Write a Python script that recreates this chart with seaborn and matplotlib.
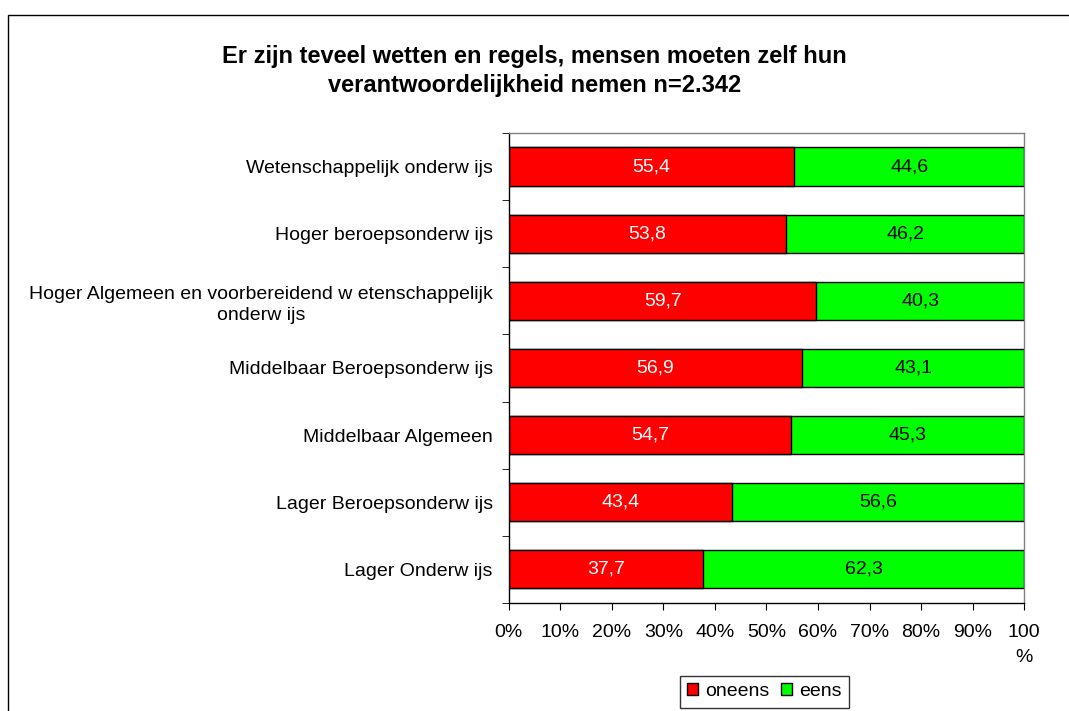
import numpy as np
import pandas as pd
import seaborn as sns
import matplotlib.pyplot as plt
from matplotlib.patches import Rectangle, Patch

categories = ["Wetenschappelijk onderw ijs",
              "Hoger beroepsonderw ijs",
              "Hoger Algemeen en voorbereidend w etenschappelijk\nonderw ijs",
              "Middelbaar Beroepsonderw ijs",
              "Middelbaar Algemeen",
              "Lager Beroepsonderw ijs",
              "Lager Onderw ijs"]
oneens = [55.4, 53.8, 59.7, 56.9, 54.7, 43.4, 37.7]
eens = [44.6, 46.2, 40.3, 43.1, 45.3, 56.6, 62.3]

df = pd.DataFrame({"cat": categories, "oneens": oneens, "eens": eens})
df["total"] = df["oneens"] + df["eens"]

sns.set_style("white")
plt.rcParams["font.family"] = ["Liberation Sans", "DejaVu Sans"]
plt.rcParams["text.color"] = "black"
plt.rcParams["xtick.color"] = "black"
plt.rcParams["ytick.color"] = "black"

fs = 14
fig = plt.figure(figsize=(10.69, 7.11), dpi=100)
ax = fig.add_axes([0.476, 0.152, 0.482, 0.661])

red = "#ff0000"
green = "#00ff00"
sns.barplot(data=df, x="total", y="cat", orient="h", color=green, saturation=1,
            edgecolor="black", linewidth=1, width=0.57, ax=ax)
sns.barplot(data=df, x="oneens", y="cat", orient="h", color=red, saturation=1,
            edgecolor="black", linewidth=1, width=0.57, ax=ax)

for i, (o, e) in enumerate(zip(oneens, eens)):
    ax.text(o / 2, i, f"{o:.1f}".replace(".", ","), ha="center", va="center",
            color="white", fontsize=fs)
    ax.text(o + e / 2, i, f"{e:.1f}".replace(".", ","), ha="center", va="center",
            color="black", fontsize=fs)

ax.set_xlim(0, 100)
ax.set_ylim(len(categories) - 0.5, -0.5)
ax.set_xticks(np.arange(0, 101, 10))
ax.set_xticklabels([f"{v}%" for v in range(0, 100, 10)] + ["100\n%"], fontsize=fs)
ax.set_yticks(range(len(categories)))
ax.set_yticklabels(categories, fontsize=fs, ha="right", multialignment="center",
                   linespacing=1.35)
ax.yaxis.set_tick_params(length=0, pad=11.5)
ax.set_yticks(np.arange(-0.5, len(categories)), minor=True)
ax.tick_params(axis="y", which="minor", length=5, direction="out", left=True)
ax.tick_params(axis="x", length=5, direction="out", bottom=True, pad=10)
for lbl in ax.get_xticklabels():
    lbl.set_verticalalignment("top")
    lbl.set_multialignment("center")
    lbl.set_linespacing(1.6)
ax.set_xlabel("")
ax.set_ylabel("")
for s in ax.spines.values():
    s.set_color("#808080")
    s.set_linewidth(1)
ax.spines["left"].set_color("black")
ax.spines["bottom"].set_color("black")

fig.text(0.5, 0.9, "Er zijn teveel wetten en regels, mensen moeten zelf hun\nverantwoordelijkheid nemen n=2.342",
         ha="center", va="center", fontsize=17, fontweight="bold", linespacing=1.3)

handles = [Patch(facecolor=red, edgecolor="black"), Patch(facecolor=green, edgecolor="black")]
fig.legend(handles, ["oneens", "eens"], loc="center", bbox_to_anchor=(0.715, 0.027), ncol=2,
           frameon=True, fancybox=False, edgecolor="black", fontsize=fs,
           handlelength=0.57, handleheight=0.57, handletextpad=0.36, columnspacing=0.57,
           borderpad=0.4, borderaxespad=0)

fig.patches.append(Rectangle((0.0075, -0.05), 1.1, 1.029, transform=fig.transFigure,
                             fill=False, edgecolor="black", linewidth=1))

fig.savefig("out.png", dpi=100)
